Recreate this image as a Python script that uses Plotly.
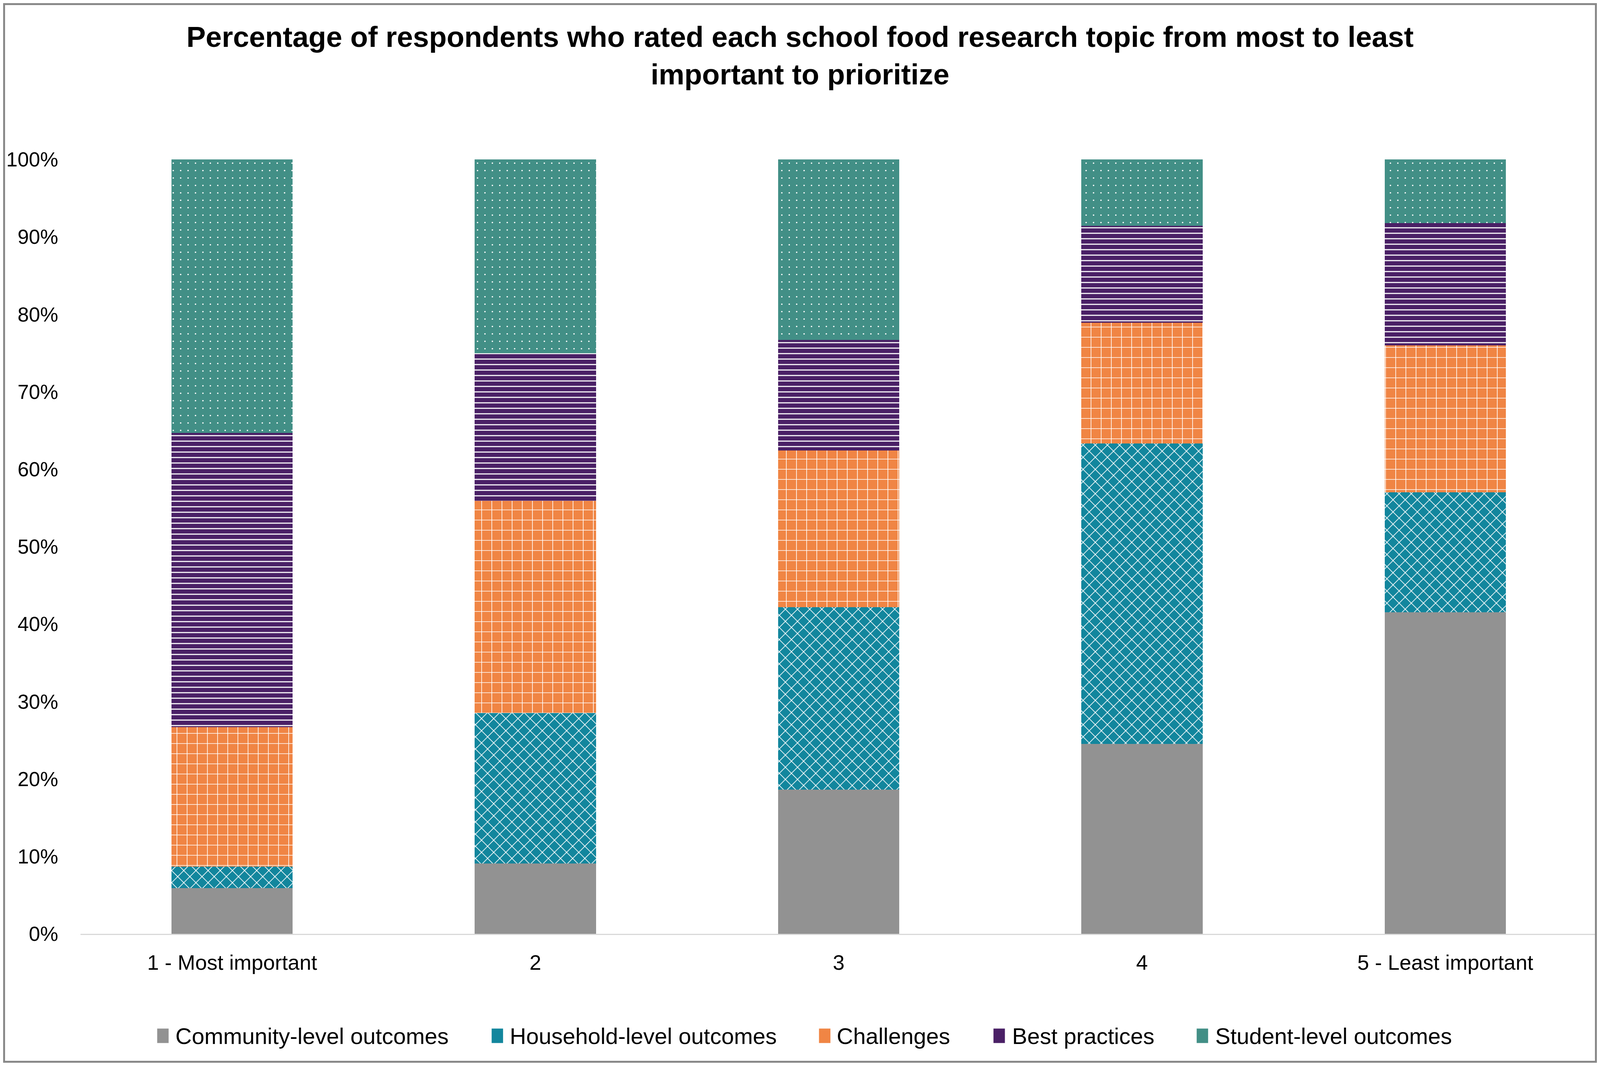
import plotly.graph_objects as go

categories = ["1 - Most important", "2", "3", "4", "5 - Least important"]
series_names = ["Community-level outcomes", "Household-level outcomes", "Challenges",
                "Best practices", "Student-level outcomes"]
community = [5.9, 9.1, 18.6, 24.5, 41.5]
household = [2.8, 19.4, 23.6, 38.8, 15.5]
challenges = [18.0, 27.4, 20.2, 15.6, 19.0]
best_practices = [38.0, 19.1, 14.3, 12.5, 15.8]
student = [35.3, 25.0, 23.3, 8.6, 8.2]
y_ticks = [0, 10, 20, 30, 40, 50, 60, 70, 80, 90, 100]

series_values = [community, household, challenges, best_practices, student]
colors = ["#929292", "#12869D", "#F08544", "#4A2066", "#428F86"]
patterns = [
    dict(shape=""),
    dict(shape="x", size=22, solidity=0.15),
    dict(shape="+", size=26, solidity=0.12),
    dict(shape="-", size=14, solidity=0.2),
    dict(shape=".", size=19, solidity=0.03),
]

# The browser viewport is 4096 x 2736 px (page body has an 8 px margin), so the
# figure is laid out to fill it, keeping the reference's proportions
# (reference frame: 5181 x 2736).
REF_W, REF_H = 5181, 2736
VIEW_W, VIEW_H = 4096, 2736
BODY = 8
W, H = VIEW_W - 2 * BODY, VIEW_H - 3 * BODY
SX, SY = VIEW_W / REF_W, VIEW_H / REF_H


def fx(x_ref):
    return x_ref * SX - BODY


def fy(y_ref):
    return y_ref * SY - BODY


ML = round(fx(260))
MR = 0
MT = round(fy(408))
MB = round(H - fy(2390))
PW = W - ML - MR
PH = H - MT - MB


def pxf(x_fig):
    return (x_fig - ML) / PW


def pyf(y_fig):
    return (H - MB - y_fig) / PH


def px(x_ref):
    return pxf(fx(x_ref))


def py(y_ref):
    return pyf(fy(y_ref))


FONT = "Liberation Sans, Arial, sans-serif"

fig = go.Figure()
for name, vals, col, pat in zip(series_names, series_values, colors, patterns):
    p = dict(pat)
    if p.get("shape"):
        p.update(fgcolor="#FFFFFF", bgcolor=col, fillmode="replace")
    fig.add_trace(go.Bar(
        name=name, x=categories, y=vals,
        marker=dict(color=col, line=dict(width=0), pattern=p),
        showlegend=False,
    ))

shapes = []
annotations = []
# legend (positions in reference pixels)
box_left = [509, 1592, 2652, 3217, 3875]
text_left = [565, 1648, 2707, 3275, 3933]
box_w = 37
leg_cy = 2651
for name, col, bl, tl in zip(series_names, colors, box_left, text_left):
    shapes.append(dict(type="rect", xref="paper", yref="paper",
                       x0=px(bl), x1=px(bl + box_w),
                       y0=py(leg_cy + box_w / 2), y1=py(leg_cy - box_w / 2),
                       fillcolor=col, line=dict(width=0), layer="above"))
    annotations.append(dict(text=name, xref="paper", yref="paper",
                            x=px(tl), y=py(leg_cy), xanchor="left", yanchor="middle",
                            showarrow=False, font=dict(family=FONT, size=58, color="#000000")))

# outer border around the whole chart
shapes.append(dict(type="rect", xref="paper", yref="paper",
                   x0=pxf(2.5), x1=pxf(W - 2.5), y0=pyf(H - 2.5), y1=pyf(2.5),
                   line=dict(color="#898989", width=5), fillcolor="rgba(0,0,0,0)", layer="above"))

fig.update_layout(
    width=W, height=H,
    margin=dict(l=ML, r=MR, t=MT, b=MB, pad=0),
    barmode="stack",
    bargap=0.6,
    plot_bgcolor="#FFFFFF",
    paper_bgcolor="#FFFFFF",
    font=dict(family=FONT, color="#000000"),
    title=dict(
        text="<b>Percentage of respondents who rated each school food research topic from most to least<br>important to prioritize</b>",
        x=0.5, xref="container", xanchor="center",
        y=1 - 112 / H, yref="container", yanchor="top",
        font=dict(family=FONT, size=74, color="#000000"),
    ),
    showlegend=False,
    shapes=shapes,
    annotations=annotations,
)
fig.update_xaxes(
    type="category", showgrid=False, showline=True, linecolor="#D9D9D9", linewidth=3,
    ticks="", tickfont=dict(family=FONT, size=54, color="#000000"), ticklabelstandoff=24,
    range=[-0.5, 4.5], zeroline=False,
)
fig.update_yaxes(
    range=[0, 100], tickvals=y_ticks, ticktext=[f"{v}%" for v in y_ticks],
    showgrid=False, showline=False, zeroline=False, ticks="",
    tickfont=dict(family=FONT, size=52, color="#000000"), ticklabelstandoff=56,
)

fig.write_html("out.html")
